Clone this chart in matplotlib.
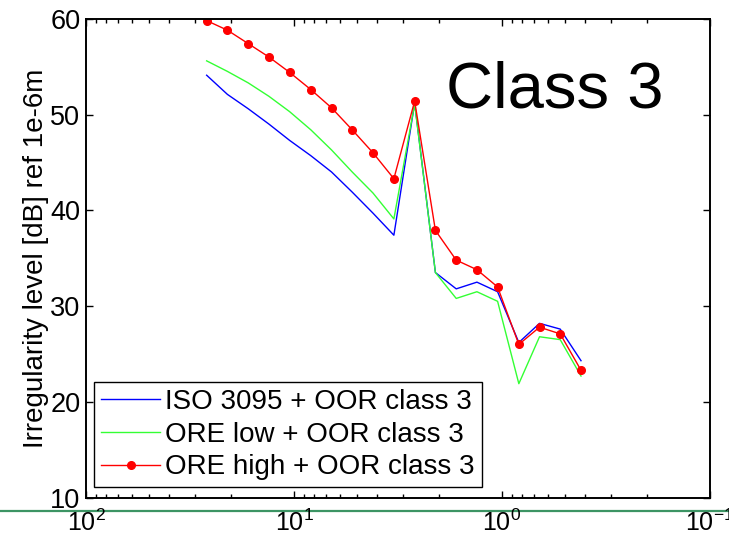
import matplotlib
matplotlib.use("Agg")
import matplotlib.pyplot as plt
from matplotlib.lines import Line2D

plt.rcParams["font.family"] = ["Liberation Sans", "DejaVu Sans"]
plt.rcParams["mathtext.fontset"] = "custom"
plt.rcParams["mathtext.rm"] = "Liberation Sans"
plt.rcParams["mathtext.it"] = "Liberation Sans:italic"
plt.rcParams["mathtext.bf"] = "Liberation Sans:bold"
plt.rcParams["axes.unicode_minus"] = False

# Wavelength band centres [m] (one-third octave)
wavelength = [26.3, 20.9, 16.6, 13.2, 10.5, 8.3, 6.6, 5.25, 4.17, 3.31,
              2.63, 2.09, 1.66, 1.32, 1.05, 0.83, 0.66, 0.525, 0.417]

# Irregularity levels [dB re 1e-6 m]
iso3095 = [54.1, 52.1, 50.6, 49.0, 47.3, 45.7, 44.0, 41.9, 39.7, 37.4,
           51.2, 33.5, 31.8, 32.5, 31.5, 26.2, 28.2, 27.6, 24.3]
ore_low = [55.6, 54.5, 53.3, 51.9, 50.3, 48.4, 46.3, 44.0, 41.8, 39.1,
           51.1, 33.5, 30.8, 31.5, 30.5, 21.9, 26.8, 26.5, 22.7]
ore_high = [59.8, 58.8, 57.4, 56.0, 54.4, 52.6, 50.7, 48.4, 46.0, 43.3,
            51.4, 37.9, 34.8, 33.8, 32.0, 26.0, 27.8, 27.1, 23.3]

labels = ["ISO 3095 + OOR class 3",
          "ORE low + OOR class 3",
          "ORE high + OOR class 3"]
y_ticks = [10, 20, 30, 40, 50, 60]

fig = plt.figure(figsize=(7.29, 5.37), dpi=100)
ax = fig.add_axes([86 / 729, 1 - 497.7 / 537, 624 / 729, 479 / 537])

ax.plot(wavelength, iso3095, color="#0000ff", lw=1.0, label=labels[0])
ax.plot(wavelength, ore_low, color="#33ff33", lw=1.0, label=labels[1])
ax.plot(wavelength, ore_high, color="#ff0000", lw=1.0, marker="o",
        markersize=5.5, label=labels[2])

ax.set_xscale("log")
ax.set_xlim(100, 0.1)
ax.set_ylim(10, 60)
ax.set_yticks(y_ticks)

for s in ax.spines.values():
    s.set_linewidth(1.4)

ax.tick_params(which="both", direction="in", top=True, right=True,
               labelsize=19.5, width=1.0)
ax.tick_params(which="major", length=5)
ax.tick_params(which="minor", length=3)
ax.tick_params(axis="x", which="major", pad=8.5, labelsize=18)
ax.tick_params(axis="y", which="major", pad=4)

ax.set_ylabel("Irregularity level [dB] ref 1e-6m", fontsize=20, labelpad=1)

ax.text(0.751, 0.8136, "Class 3", transform=ax.transAxes, fontsize=47,
        ha="center", va="baseline")

leg = ax.legend(loc="lower left", bbox_to_anchor=(0.0135, 0.0217),
                borderaxespad=0, fontsize=20, frameon=True, fancybox=False,
                framealpha=1, edgecolor="black", handlelength=2.1,
                handletextpad=0.2, labelspacing=0.24, borderpad=0.25)
leg.get_frame().set_linewidth(1.0)

# slide rule under the plot
fig.add_artist(Line2D([0, 1], [1 - 510.7 / 537] * 2, transform=fig.transFigure,
                      color="#3c9464", lw=1.6, zorder=-1))

fig.savefig("out.png", dpi=100)
